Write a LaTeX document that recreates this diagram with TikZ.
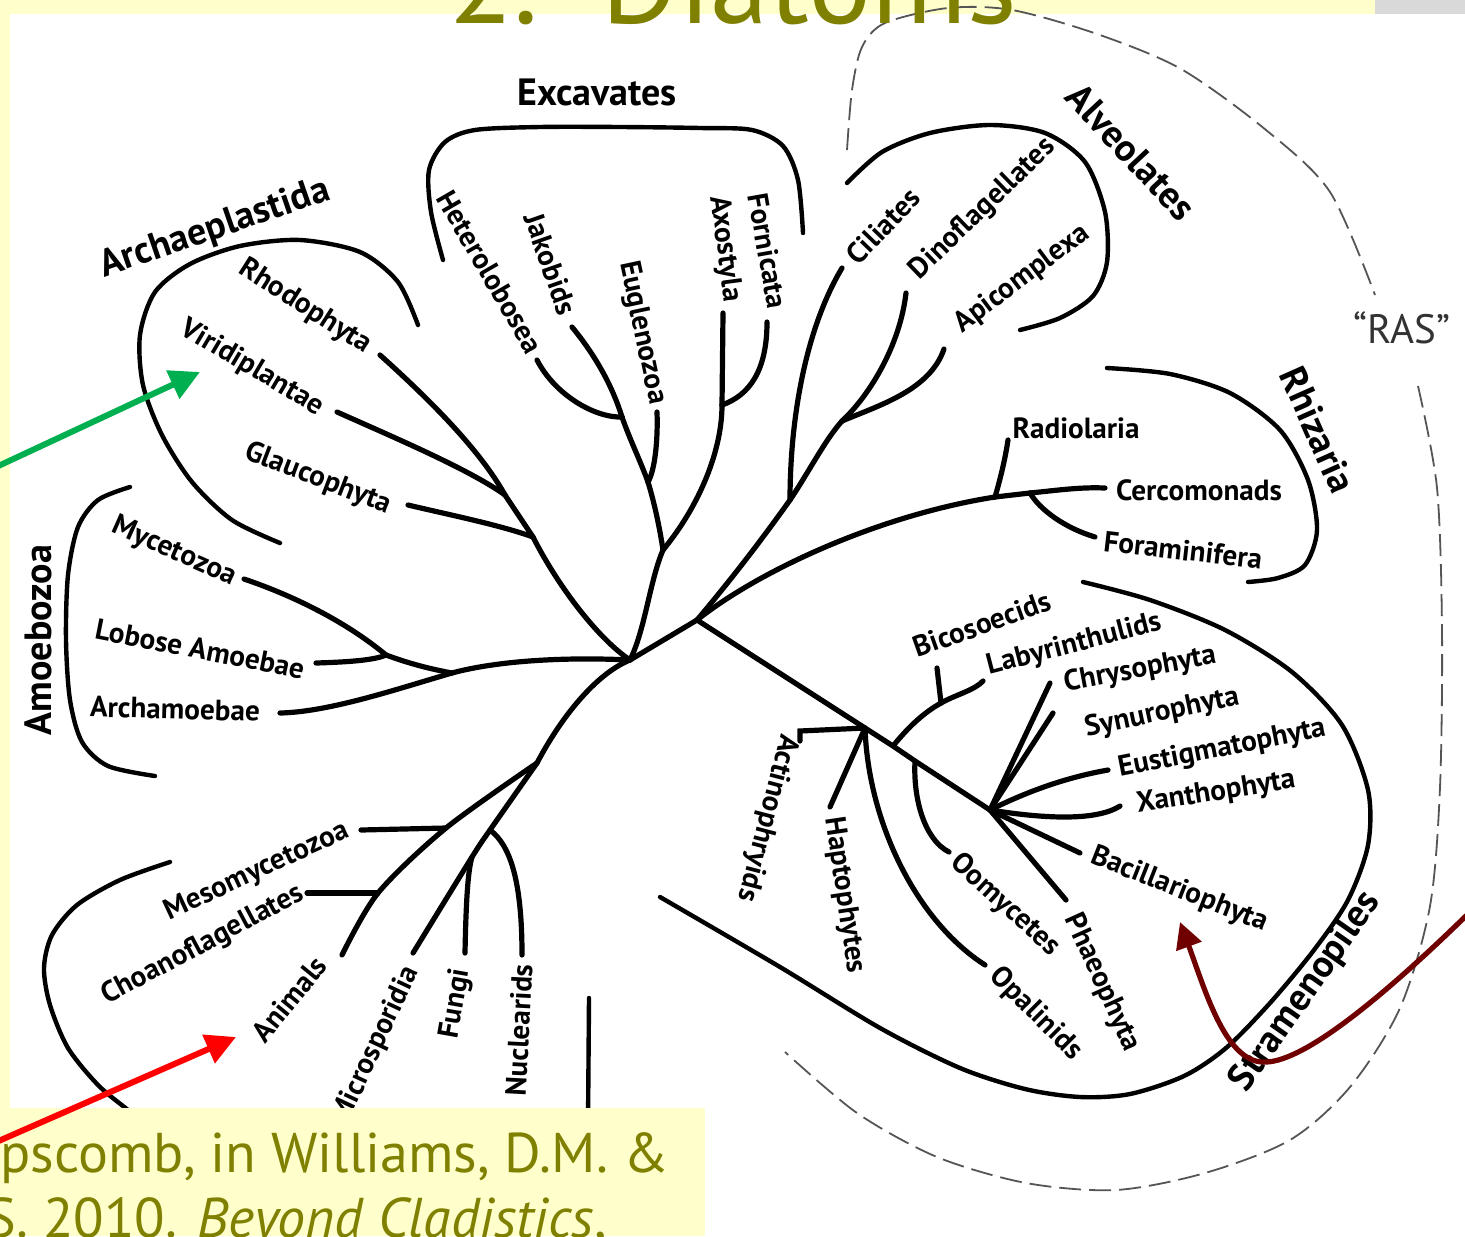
\documentclass[tikz,border=0pt]{standalone}
\usepackage{fontspec}
\setmainfont{PT Sans}
\usetikzlibrary{arrows.meta}
\definecolor{slideyellow}{RGB}{255,255,204}
\definecolor{titleolive}{RGB}{128,128,0}
\definecolor{arrowgreen}{RGB}{0,176,80}
\definecolor{arrowred}{RGB}{255,0,0}
\definecolor{arrowmaroon}{RGB}{112,0,0}
\definecolor{dashgray}{RGB}{85,85,85}
\begin{document}
\begin{tikzpicture}[x=0.5pt,y=-0.5pt,
  branch/.style={line width=2.6pt, line cap=round, black},
  bracket/.style={line width=2.2pt, line cap=round, black},
  leaf/.style={font=\bfseries\fontsize{14.6}{15}\selectfont, inner sep=0pt},
  group/.style={font=\bfseries\fontsize{19}{20}\selectfont, inner sep=0pt},
  rasline/.style={dashgray, line width=0.9pt, dash pattern=on 11pt off 4pt},
  pointer/.style={line width=3pt, -{Triangle[length=15pt,width=15pt]}},
]
\useasboundingbox (0,0) rectangle (1465,1236);
% slide and image background
\fill[slideyellow] (0,0) rectangle (1465,1236);
\fill[white] (10,14) rectangle (1465,1236);
\fill[gray!30] (1375,0) rectangle (1465,14);

% ---------- coordinates ----------
\coordinate (A) at (630,660);
\coordinate (B) at (697,620);
% Archaeplastida
\coordinate (arJ) at (533,537);
\coordinate (arJ2) at (505,495);
\coordinate (rhoE) at (380,355);
\coordinate (virE) at (337,412);
\coordinate (glaE) at (408,505);
% Amoebozoa
\coordinate (amJ) at (452,673);
\coordinate (amJ2) at (386,655);
\coordinate (mycE) at (244,579);
\coordinate (lobE) at (316,663);
\coordinate (arcE) at (280,713);
% Excavates
\coordinate (exJ) at (663,550);
\coordinate (exL) at (648,482);
\coordinate (hetJ) at (622,417);
\coordinate (hetE) at (537,360);
\coordinate (jakE) at (572,327);
\coordinate (eugE) at (657,412);
\coordinate (exR) at (722,405);
\coordinate (axoE) at (723,313);
\coordinate (forE) at (767,322);
% Alveolates
\coordinate (alJ) at (790,500);
\coordinate (alJ2) at (842,421);
\coordinate (cilE) at (842,268);
\coordinate (dinE) at (906,293);
\coordinate (apiE) at (944,349);
% Rhizaria
\coordinate (rhJ) at (995,497);
\coordinate (rhJ2) at (1030,493);
\coordinate (radE) at (1008,440);
\coordinate (cerE) at (1105,488);
\coordinate (foraE) at (1095,537);
% Stramenopiles etc.
\coordinate (haJ) at (865,728);
\coordinate (labJ) at (893,746);
\coordinate (ooJ) at (915,761);
\coordinate (faJ) at (990,810);
\coordinate (biJ) at (941,703);
\coordinate (bicE) at (937,668);
\coordinate (labE) at (983,681);
\coordinate (acE) at (800,731);
\coordinate (acT) at (800,741);
\coordinate (hapE) at (830,807);
\coordinate (opE) at (985,965);
\coordinate (ooE) at (949,852);
\coordinate (chrE) at (1050,683);
\coordinate (synE) at (1053,713);
\coordinate (eusE) at (1108,770);
\coordinate (xanE) at (1120,806);
\coordinate (bacE) at (1080,853);
\coordinate (phaE) at (1066,900);
% Opisthokonts
\coordinate (opJ) at (537,763);
\coordinate (mesJ) at (446,828);
\coordinate (choJ) at (378,893);
\coordinate (aniE) at (342,955);
\coordinate (mesE) at (361,830);
\coordinate (choE) at (307,893);
\coordinate (nucJ) at (490,830);
\coordinate (fuJ) at (472,857);
\coordinate (micE) at (413,953);
\coordinate (nucE) at (522,955);
\coordinate (fuE) at (465,953);
\coordinate (lineTop) at (589,998);
\coordinate (lineBot) at (588,1125);

% ---------- branches ----------
\draw[branch] (A) -- (B);
% Archaeplastida
\draw[branch] (A) .. controls (600,640) and (560,590) .. (arJ);
\draw[branch] (arJ) -- (arJ2);
\draw[branch] (rhoE) .. controls (430,400) and (480,450) .. (arJ2);
\draw[branch] (virE) .. controls (400,440) and (470,470) .. (arJ2);
\draw[branch] (glaE) .. controls (450,515) and (500,525) .. (arJ);
% Amoebozoa
\draw[branch] (A) .. controls (570,657) and (500,660) .. (amJ);
\draw[branch] (amJ) .. controls (425,668) and (405,662) .. (amJ2);
\draw[branch] (amJ2) .. controls (350,625) and (300,598) .. (mycE);
\draw[branch] (lobE) .. controls (350,662) and (375,660) .. (amJ2);
\draw[branch] (arcE) .. controls (330,712) and (400,688) .. (amJ);
% Excavates
\draw[branch] (A) .. controls (645,630) and (650,580) .. (exJ);
\draw[branch] (exL) .. controls (655,505) and (660,530) .. (exJ);
\draw[branch] (hetE) .. controls (555,395) and (595,418) .. (hetJ);
\draw[branch] (jakE) .. controls (595,355) and (612,385) .. (hetJ);
\draw[branch] (hetJ) .. controls (630,440) and (640,460) .. (exL);
\draw[branch] (eugE) .. controls (658,440) and (655,470) .. (exL);
\draw[branch] (axoE) -- (exR);
\draw[branch] (forE) .. controls (767,370) and (750,395) .. (exR);
\draw[branch] (exR) .. controls (722,450) and (700,505) .. (exJ);
% Alveolates
\draw[branch] (B) .. controls (735,575) and (765,535) .. (alJ);
\draw[branch] (alJ) .. controls (790,420) and (805,330) .. (cilE);
\draw[branch] (alJ) .. controls (810,470) and (825,440) .. (alJ2);
\draw[branch] (alJ2) .. controls (870,395) and (900,345) .. (dinE);
\draw[branch] (alJ2) .. controls (880,405) and (930,390) .. (apiE);
% Rhizaria
\draw[branch] (B) .. controls (760,570) and (880,515) .. (rhJ);
\draw[branch] (radE) .. controls (1005,460) and (1000,480) .. (rhJ);
\draw[branch] (rhJ) -- (rhJ2);
\draw[branch] (rhJ2) .. controls (1060,490) and (1080,487) .. (cerE);
\draw[branch] (rhJ2) .. controls (1040,510) and (1065,528) .. (foraE);
% Stramenopiles, haptophytes
\draw[branch] (B) -- (haJ) -- (labJ) -- (ooJ) -- (faJ);
\draw[branch] (acT) -- (acE) -- (haJ);
\draw[branch] (hapE) -- (haJ);
\draw[branch] (haJ) .. controls (868,820) and (915,920) .. (opE);
\draw[branch] (ooJ) .. controls (913,800) and (925,840) .. (ooE);
\draw[branch] (labJ) .. controls (910,725) and (925,712) .. (biJ);
\draw[branch] (biJ) -- (bicE);
\draw[branch] (biJ) .. controls (955,695) and (975,690) .. (labE);
\draw[branch] (faJ) -- (chrE);
\draw[branch] (faJ) -- (synE);
\draw[branch] (faJ) .. controls (1040,785) and (1080,775) .. (eusE);
\draw[branch] (faJ) .. controls (1040,818) and (1095,822) .. (xanE);
\draw[branch] (faJ) -- (bacE);
\draw[branch] (faJ) -- (phaE);
% Opisthokonts
\draw[branch] (A) .. controls (600,672) and (565,710) .. (opJ);
\draw[branch] plot[smooth] coordinates {(opJ) (mesJ) (choJ) (aniE)};
\draw[branch] plot[smooth] coordinates {(opJ) (nucJ) (fuJ) (micE)};
\draw[branch] (mesE) -- (mesJ);
\draw[branch] (choE) -- (choJ);
\draw[branch] (nucJ) .. controls (510,845) and (522,880) .. (nucE);
\draw[branch] (fuJ) .. controls (468,870) and (466,900) .. (fuE);
\draw[bracket] (lineTop) -- (lineBot);

% ---------- brackets ----------
\draw[bracket] plot[smooth] coordinates {(418,325) (398,282) (360,252) (300,240) (240,246) (190,264) (155,292) (140,335) (143,385) (162,435) (192,482) (232,520) (280,543)};
\draw[bracket] plot[smooth] coordinates {(130,487) (98,500) (78,527) (68,575) (66,640) (70,700) (82,742) (108,766) (155,776)};
\draw[bracket] plot[smooth] coordinates {(443,260) (431,212) (429,170) (445,142) (475,130) (540,127) (620,127) (700,128) (752,130) (783,146) (798,180) (803,233)};
\draw[bracket] plot[smooth] coordinates {(847,183) (882,152) (930,133) (990,125) (1045,133) (1085,162) (1105,212) (1107,262) (1093,296) (1060,318) (1020,330)};
\draw[bracket] plot[smooth] coordinates {(1107,368) (1170,374) (1230,393) (1280,430) (1308,480) (1317,530) (1305,565) (1278,578) (1248,582)};
\draw[bracket] plot[smooth] coordinates {(1083,582) (1150,600) (1225,630) (1292,672) (1342,725) (1368,790) (1368,845) (1348,900) (1314,950) (1270,1003) (1226,1048) (1184,1076) (1130,1094) (1080,1097) (1025,1089) (960,1068) (880,1028) (780,967) (660,897)};
\draw[bracket] plot[smooth] coordinates {(170,862) (120,880) (77,905) (52,935) (44,968) (50,1005) (68,1048) (98,1085) (128,1110) (150,1128)};

% ---------- RAS dashed outline ----------
\draw[rasline] plot[smooth] coordinates {(847,150) (852,90) (862,47) (885,23) (948,8) (1012,10) (1097,34) (1181,69) (1266,130) (1330,192) (1375,295)};
\draw[rasline] plot[smooth] coordinates {(1418,386) (1437,488) (1442,630) (1440,787) (1430,906) (1400,1008) (1350,1087) (1290,1140) (1205,1173) (1116,1190) (1026,1183) (937,1157) (857,1113) (785,1052)};
\node[font=\fontsize{20.5}{21}\selectfont, text=black!80, inner sep=0pt] (ras) at (1402,328) {“RAS”};

% ---------- group labels ----------
\node[group] (gExc) at (597,92) {Excavates};
\node[group, rotate=19] (gArc) at (215,229) {Archaeplastida};
\node[group, rotate=-47] (gAlv) at (1131,152) {Alveolates};
\node[group, rotate=-66] (gRhi) at (1318,430) {Rhizaria};
\node[group, rotate=90] (gAmo) at (38,640) {Amoebozoa};
\node[group, rotate=55] (gStr) at (1306,992) {Stramenopiles};

% ---------- leaf labels ----------
\node[leaf, rotate=-32.4] (lRho) at (305,307) {Rhodophyta};
\node[leaf, rotate=-30.7] (lVir) at (252,368) {Viridiplantae};
\node[leaf, rotate=-21] (lGla) at (318,479) {Glaucophyta};
\node[leaf, rotate=-24] (lMyc) at (174,552) {Mycetozoa};
\node[leaf, rotate=-11] (lLob) at (200,649) {Lobose Amoebae};
\node[leaf, rotate=-1.5] (lArc) at (175,709) {Archamoebae};
\node[leaf, rotate=-60] (lHet) at (490,272) {Heterolobosea};
\node[leaf, rotate=-70.6] (lJak) at (551,264) {Jakobids};
\node[leaf, rotate=-78] (lEug) at (642,333) {Euglenozoa};
\node[leaf, rotate=-82.6] (lAxo) at (725,249) {Axostyla};
\node[leaf, rotate=-80] (lFor) at (768,251) {Fornicata};
\node[leaf, rotate=46] (lCil) at (883,226) {Ciliates};
\node[leaf, rotate=44] (lDin) at (983,209) {Dinoflagellates};
\node[leaf, rotate=37] (lApi) at (1022,279) {Apicomplexa};
\node[leaf] (lRad) at (1076,428) {Radiolaria};
\node[leaf] (lCer) at (1199,490) {Cercomonads};
\node[leaf, rotate=-6.5] (lFora) at (1183,550) {Foraminifera};
\node[leaf, rotate=19.6] (lBic) at (982,624) {Bicosoecids};
\node[leaf, rotate=14.5] (lLab) at (1074,645) {Labyrinthulids};
\node[leaf, rotate=10.6] (lChr) at (1140,670) {Chrysophyta};
\node[leaf, rotate=11.9] (lSyn) at (1162,713) {Synurophyta};
\node[leaf, rotate=11.2] (lEus) at (1222,749) {Eustigmatophyta};
\node[leaf, rotate=9] (lXan) at (1216,793) {Xanthophyta};
\node[leaf, rotate=-21.5] (lBac) at (1179,890) {Bacillariophyta};
\node[leaf, rotate=-65.6] (lPha) at (1102,983) {Phaeophyta};
\node[leaf, rotate=-45] (lOpa) at (1036,1014) {Opalinids};
\node[leaf, rotate=-42.4] (lOom) at (1005,905) {Oomycetes};
\node[leaf, rotate=-81.5] (lHap) at (844,895) {Haptophytes};
\node[leaf, rotate=-104.6] (lAct) at (767,818) {Actinophryids};
\node[leaf, rotate=25] (lMes) at (257,872) {Mesomycetozoa};
\node[leaf, rotate=28] (lCho) at (203,945) {Choanoflagellates};
\node[leaf, rotate=50.7] (lAni) at (289,999) {Animals};
\node[leaf, rotate=65, anchor=east] (lMic) at (412,968) {Microsporidia};
\node[leaf, rotate=80] (lFun) at (456,1004) {Fungi};
\node[leaf, rotate=87] (lNuc) at (519,1030) {Nuclearids};

% ---------- slide overlays ----------
\node[font=\fontsize{59}{60}\selectfont, text=titleolive, anchor=base, inner sep=0pt] (title) at (733,24) {2.\ \ Diatoms};
\fill[slideyellow] (0,1108) rectangle (705,1236);
\fill[slideyellow] (0,0) rectangle (10,1108);
\node[font=\fontsize{28}{30}\selectfont, text=titleolive, anchor=base west, inner sep=0pt] (cite1) at (0,1172) {pscomb, in Williams, D.M. \&};
\node[font=\fontsize{28}{30}\selectfont, text=titleolive, anchor=base west, inner sep=0pt] (cite2) at (-14,1237) {S. 2010. \textit{Beyond Cladistics},};

% ---------- arrows ----------
\coordinate (gS) at (-6,468);
\coordinate (gT) at (200,372);
\coordinate (rS) at (-6,1143);
\coordinate (rT) at (236,1037);
\coordinate (mS) at (1470,912);
\coordinate (mM) at (1262,1062);
\coordinate (mT) at (1180,922);
\draw[pointer, arrowgreen] (gS) -- (gT);
\draw[pointer, arrowred] (rS) -- (rT);
\draw[line width=2.6pt, arrowmaroon, -{Triangle[length=13pt,width=13pt]}] (mS) .. controls (1380,1000) and (1300,1065) .. (mM) .. controls (1225,1060) and (1205,990) .. (mT);
\end{tikzpicture}
\end{document}
